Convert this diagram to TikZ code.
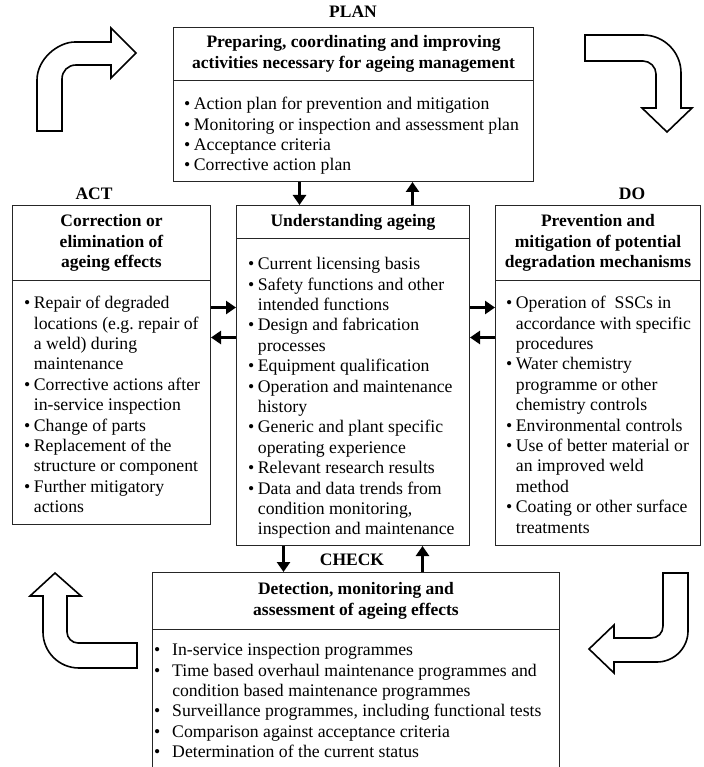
\documentclass[tikz,border=0pt]{standalone}
\usepackage{fontspec}
\setmainfont{Liberation Serif}
\usetikzlibrary{arrows.meta, positioning}
\newcommand{\bul}[1]{\makebox[#1][l]{\textbullet}}

\begin{document}
\begin{tikzpicture}[
  x=1pt, y=-1pt,
  font=\fontsize{17.7pt}{20.4pt}\selectfont\frenchspacing,
  panel/.style={draw=black!85, line width=1pt, inner sep=0pt},
  paneltitle/.style={draw=black!85, line width=1pt, inner sep=0pt, align=center, font=\fontsize{17.5pt}{20.8pt}\selectfont\bfseries},
  panelbody/.style={inner sep=0pt},
  phase/.style={inner sep=0pt, font=\fontsize{17.5pt}{20.8pt}\selectfont\bfseries},
  flow/.style={line width=3.5pt, -{Triangle[length=10pt, width=13pt]}},
  bigarrow/.style={draw=black, line width=1.6pt, fill=white, line join=miter}
]
\useasboundingbox (0,0) rectangle (703,767);
\node[phase] (plan label) at (353,12) {PLAN};
\node[phase] (act label) at (94,194) {ACT};
\node[phase] (do label) at (632,194) {DO};
\node[phase] (check label) at (352,560) {CHECK};
% PLAN
\node[panel, minimum width=360pt, minimum height=154pt, anchor=north west] (plan) at (173,27) {};
\node[paneltitle, minimum width=360pt, minimum height=53pt, below=0pt of plan.north] (plan title) {Preparing, coordinating and improving\\activities necessary for ageing management};
\node[panelbody, below right=14.2pt and 11pt of plan title.south west] (plan body) {%
\begin{tabular}{@{}l@{}l@{}}
\bul{0.55em} & Action plan for prevention and mitigation\\
\bul{0.55em} & Monitoring or inspection and assessment plan\\
\bul{0.55em} & Acceptance criteria\\
\bul{0.55em} & Corrective action plan
\end{tabular}};
% ACT
\node[panel, minimum width=198pt, minimum height=319pt, anchor=north west] (act) at (12,205) {};
\node[paneltitle, minimum width=198pt, minimum height=75pt, below=0pt of act.north] (act title) {Correction or\\elimination of\\ageing effects};
\node[panelbody, below right=13.2pt and 12pt of act title.south west] (act body) {%
\begin{tabular}{@{}l@{}l@{}}
\bul{0.55em} & Repair of degraded\\
 & locations (e.g. repair of\\
 & a weld) during\\
 & maintenance\\
\bul{0.55em} & Corrective actions after\\
 & in-service inspection\\
\bul{0.55em} & Change of parts\\
\bul{0.55em} & Replacement of the\\
 & structure or component\\
\bul{0.55em} & Further mitigatory\\
 & actions
\end{tabular}};
% UNDERSTANDING AGEING
\node[panel, minimum width=233pt, minimum height=340pt, anchor=north west] (understand) at (236,205) {};
\node[paneltitle, minimum width=233pt, minimum height=33pt, below=0pt of understand.north] (understand title) {Understanding ageing};
\node[panelbody, below right=16.2pt and 12pt of understand title.south west] (understand body) {%
\begin{tabular}{@{}l@{}l@{}}
\bul{0.55em} & Current licensing basis\\
\bul{0.55em} & Safety functions and other\\
 & intended functions\\
\bul{0.55em} & Design and fabrication\\
 & processes\\
\bul{0.55em} & Equipment qualification\\
\bul{0.55em} & Operation and maintenance\\
 & history\\
\bul{0.55em} & Generic and plant specific\\
 & operating experience\\
\bul{0.55em} & Relevant research results\\
\bul{0.55em} & Data and data trends from\\
 & condition monitoring,\\
 & inspection and maintenance
\end{tabular}};
% DO
\node[panel, minimum width=205pt, minimum height=340pt, anchor=north west] (do) at (495,205) {};
\node[paneltitle, minimum width=205pt, minimum height=75pt, below=0pt of do.north] (do title) {Prevention and\\mitigation of potential\\degradation mechanisms};
\node[panelbody, below right=13.2pt and 11pt of do title.south west] (do body) {%
\begin{tabular}{@{}l@{}l@{}}
\bul{0.55em} & Operation of\ \ SSCs in\\
 & accordance with specific\\
 & procedures\\
\bul{0.55em} & Water chemistry\\
 & programme or other\\
 & chemistry controls\\
\bul{0.55em} & Environmental controls\\
\bul{0.55em} & Use of better material or\\
 & an improved weld\\
 & method\\
\bul{0.55em} & Coating or other surface\\
 & treatments
\end{tabular}};
% CHECK
\node[panel, minimum width=407pt, minimum height=197pt, anchor=north west] (check) at (152,572) {};
\node[paneltitle, minimum width=407pt, minimum height=57pt, below=0pt of check.north] (check title) {Detection, monitoring and\\assessment of ageing effects};
\node[panelbody, below right=11.2pt and 2pt of check title.south west] (check body) {%
\begin{tabular}{@{}l@{}l@{}}
\bul{1.02em} & In-service inspection programmes\\
\bul{1.02em} & Time based overhaul maintenance programmes and\\
 & condition based maintenance programmes\\
\bul{1.02em} & Surveillance programmes, including functional tests\\
\bul{1.02em} & Comparison against acceptance criteria\\
\bul{1.02em} & Determination of the current status
\end{tabular}};
% connectors
\draw[flow] ([xshift=-54pt]plan.south) -- ([xshift=-54pt]plan.south |- understand.north);
\draw[flow] ([xshift=59pt]plan.south |- understand.north) -- ([xshift=59pt]plan.south);
\draw[flow] ([xshift=-69.5pt]understand.south) -- ([xshift=-69.5pt]understand.south |- check.north);
\draw[flow] ([xshift=69.5pt]understand.south |- check.north) -- ([xshift=69.5pt]understand.south);
\draw[flow] ([yshift=57.5pt]act.east) -- ([yshift=57.5pt]act.east -| understand.west);
\draw[flow] ([yshift=27.5pt]act.east -| understand.west) -- ([yshift=27.5pt]act.east);
\draw[flow] ([yshift=68pt]understand.east) -- ([yshift=68pt]understand.east -| do.west);
\draw[flow] ([yshift=38pt]understand.east -| do.west) -- ([yshift=38pt]understand.east);
% cycle arrows
\draw[bigarrow] (37,131) -- (37,80) .. controls (37,59) and (58,42) .. (75,42) -- (111,42) -- (111,28) -- (136,53) -- (111,78) -- (111,65) -- (76,65) .. controls (68,65) and (62,71) .. (62,79) -- (62,131) -- cycle;
\draw[bigarrow] (585,35) -- (643,35) .. controls (664,35) and (681,52) .. (681,73) -- (681,108) -- (692,108) -- (667,132) -- (642,108) -- (656,108) -- (656,74) .. controls (656,67) and (650,61) .. (643,61) -- (585,61) -- cycle;
\draw[bigarrow] (137,668) -- (79,668) .. controls (59,668) and (43,652) .. (43,632) -- (43,596) -- (30,596) -- (55,573) -- (81,596) -- (67,596) -- (67,632) .. controls (67,638) and (72,643) .. (78,643) -- (137,643) -- cycle;
\draw[bigarrow] (663,573) -- (688,573) -- (688,631) .. controls (688,648) and (674,662) .. (657,662) -- (614,662) -- (614,673) -- (589,649) -- (614,625) -- (614,638) -- (651,638) .. controls (658,638) and (663,633) .. (663,626) -- cycle;
\end{tikzpicture}
\end{document}
